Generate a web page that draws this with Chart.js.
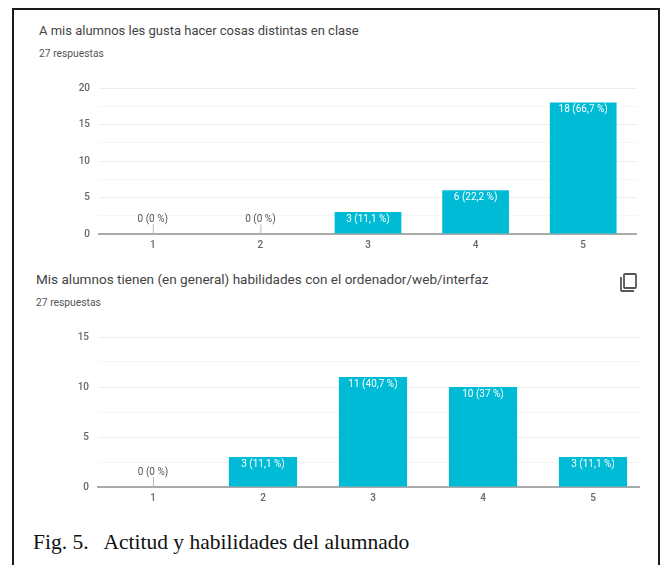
<!DOCTYPE html>
<html lang="es">
<head>
<meta charset="utf-8">
<title>Actitud y habilidades del alumnado</title>
<script src="https://cdn.jsdelivr.net/npm/chart.js@4"></script>
<style>
  html, body { margin: 0; padding: 0; background: #fff; }
  body { width: 664px; height: 565px; position: relative; overflow: hidden; }
  #frame { position: absolute; left: 12px; top: 8px; width: 644px; height: 600px; border: 2px solid #1a1a1a; }
  .abs { position: absolute; white-space: nowrap; }
  .title { font: 13px Roboto, sans-serif; color: #444; }
  .count { font: 10.3px Roboto, sans-serif; color: #555; }
  #caption { left: 33px; top: 530px; font: 21.5px "Liberation Serif", serif; color: #111; white-space: pre; }
  canvas { position: absolute; }
</style>
</head>
<body>
<div id="frame"></div>

<div class="abs title" style="left:39px;top:23px">A mis alumnos les gusta hacer cosas distintas en clase</div>
<div class="abs count" style="left:39px;top:47px">27 respuestas</div>
<canvas id="likeChart" width="577" height="180" style="left:60px;top:73px"></canvas>

<div class="abs title" style="left:36px;top:271px;font-size:13.55px">Mis alumnos tienen (en general) habilidades con el ordenador/web/interfaz</div>
<div class="abs count" style="left:36px;top:296px">27 respuestas</div>
<svg class="abs" style="left:619px;top:272px" width="19" height="21" viewBox="0 0 19 21" fill="none" stroke="#555" stroke-width="1.8">
  <rect x="5" y="2" width="12" height="14" rx="1"></rect>
  <path d="M2 5v13a1 1 0 0 0 1 1h12"></path>
</svg>
<!-- last slot runs past the grid, so the canvas is cut 8px short on the right -->
<canvas id="skillChart" width="590" height="184" style="left:58px;top:322px;clip-path:inset(0 8px 0 0)"></canvas>

<div class="abs" id="caption">Fig. 5.   Actitud y habilidades del alumnado</div>

<script>
const categories = ['1', '2', '3', '4', '5'];

const likeValues = [0, 0, 3, 6, 18];
const likeLabels = ['0 (0 %)', '0 (0 %)', '3 (11,1 %)', '6 (22,2 %)', '18 (66,7 %)'];
const likeTicks = [0, 5, 10, 15, 20];

const skillValues = [0, 3, 11, 10, 3];
const skillLabels = ['0 (0 %)', '3 (11,1 %)', '11 (40,7 %)', '10 (37 %)', '3 (11,1 %)'];
const skillTicks = [0, 5, 10, 15];

const barColor = '#00bbd6';
const tickColor = '#666';

// value labels: white inside the bar, grey with a stem over empty categories
const barLabels = {
  id: 'barLabels',
  afterDatasetsDraw(chart, args, opts) {
    const { ctx } = chart;
    const bars = chart.getDatasetMeta(0).data;
    ctx.save();
    ctx.font = '10px Roboto, sans-serif';
    ctx.textAlign = 'center';
    ctx.textBaseline = 'middle';
    bars.forEach((bar, i) => {
      if (chart.data.datasets[0].data[i] === 0) {
        ctx.strokeStyle = '#bbb';
        ctx.lineWidth = 1;
        ctx.beginPath();
        ctx.moveTo(bar.x + 0.5, bar.y - 10);
        ctx.lineTo(bar.x + 0.5, bar.y);
        ctx.stroke();
        ctx.fillStyle = '#555';
        ctx.fillText(opts.texts[i], bar.x, bar.y - 15);
      } else {
        ctx.fillStyle = '#fff';
        ctx.fillText(opts.texts[i], bar.x, bar.y + 7);
      }
    });
    ctx.restore();
  }
};

function makeChart(id, values, texts, ticks, yWidth) {
  const top = ticks[ticks.length - 1];
  return new Chart(document.getElementById(id), {
    type: 'bar',
    data: {
      labels: categories,
      datasets: [{
        data: values,
        backgroundColor: barColor,
        barPercentage: 1,
        categoryPercentage: 0.62
      }]
    },
    plugins: [barLabels],
    options: {
      responsive: false,
      animation: false,
      layout: { padding: { top: 5 } },
      plugins: {
        legend: { display: false },
        tooltip: { enabled: false },
        barLabels: { texts: texts }
      },
      scales: {
        x: {
          grid: { display: false, drawTicks: false },
          border: { color: '#aaa', width: 2 },
          ticks: { color: tickColor, font: { family: 'Roboto', size: 10, weight: '500' }, padding: 5, maxRotation: 0 },
          afterFit(scale) { scale.height = 19; }
        },
        y: {
          min: 0,
          max: top,
          border: { display: false },
          // half-step lines are fainter and carry no label
          grid: {
            drawTicks: false,
            color: c => (c.tick.value % 5 === 0 ? '#eeeeee' : '#f6f6f6')
          },
          ticks: {
            stepSize: 2.5,
            autoSkip: false,
            padding: 9,
            color: tickColor,
            font: { family: 'Roboto', size: 10, weight: '500' },
            callback: v => (ticks.includes(v) ? v : '')
          },
          afterFit(scale) { scale.width = yWidth; }
        }
      }
    }
  });
}

makeChart('likeChart', likeValues, likeLabels, likeTicks, 39);
makeChart('skillChart', skillValues, skillLabels, skillTicks, 40);
</script>
</body>
</html>
